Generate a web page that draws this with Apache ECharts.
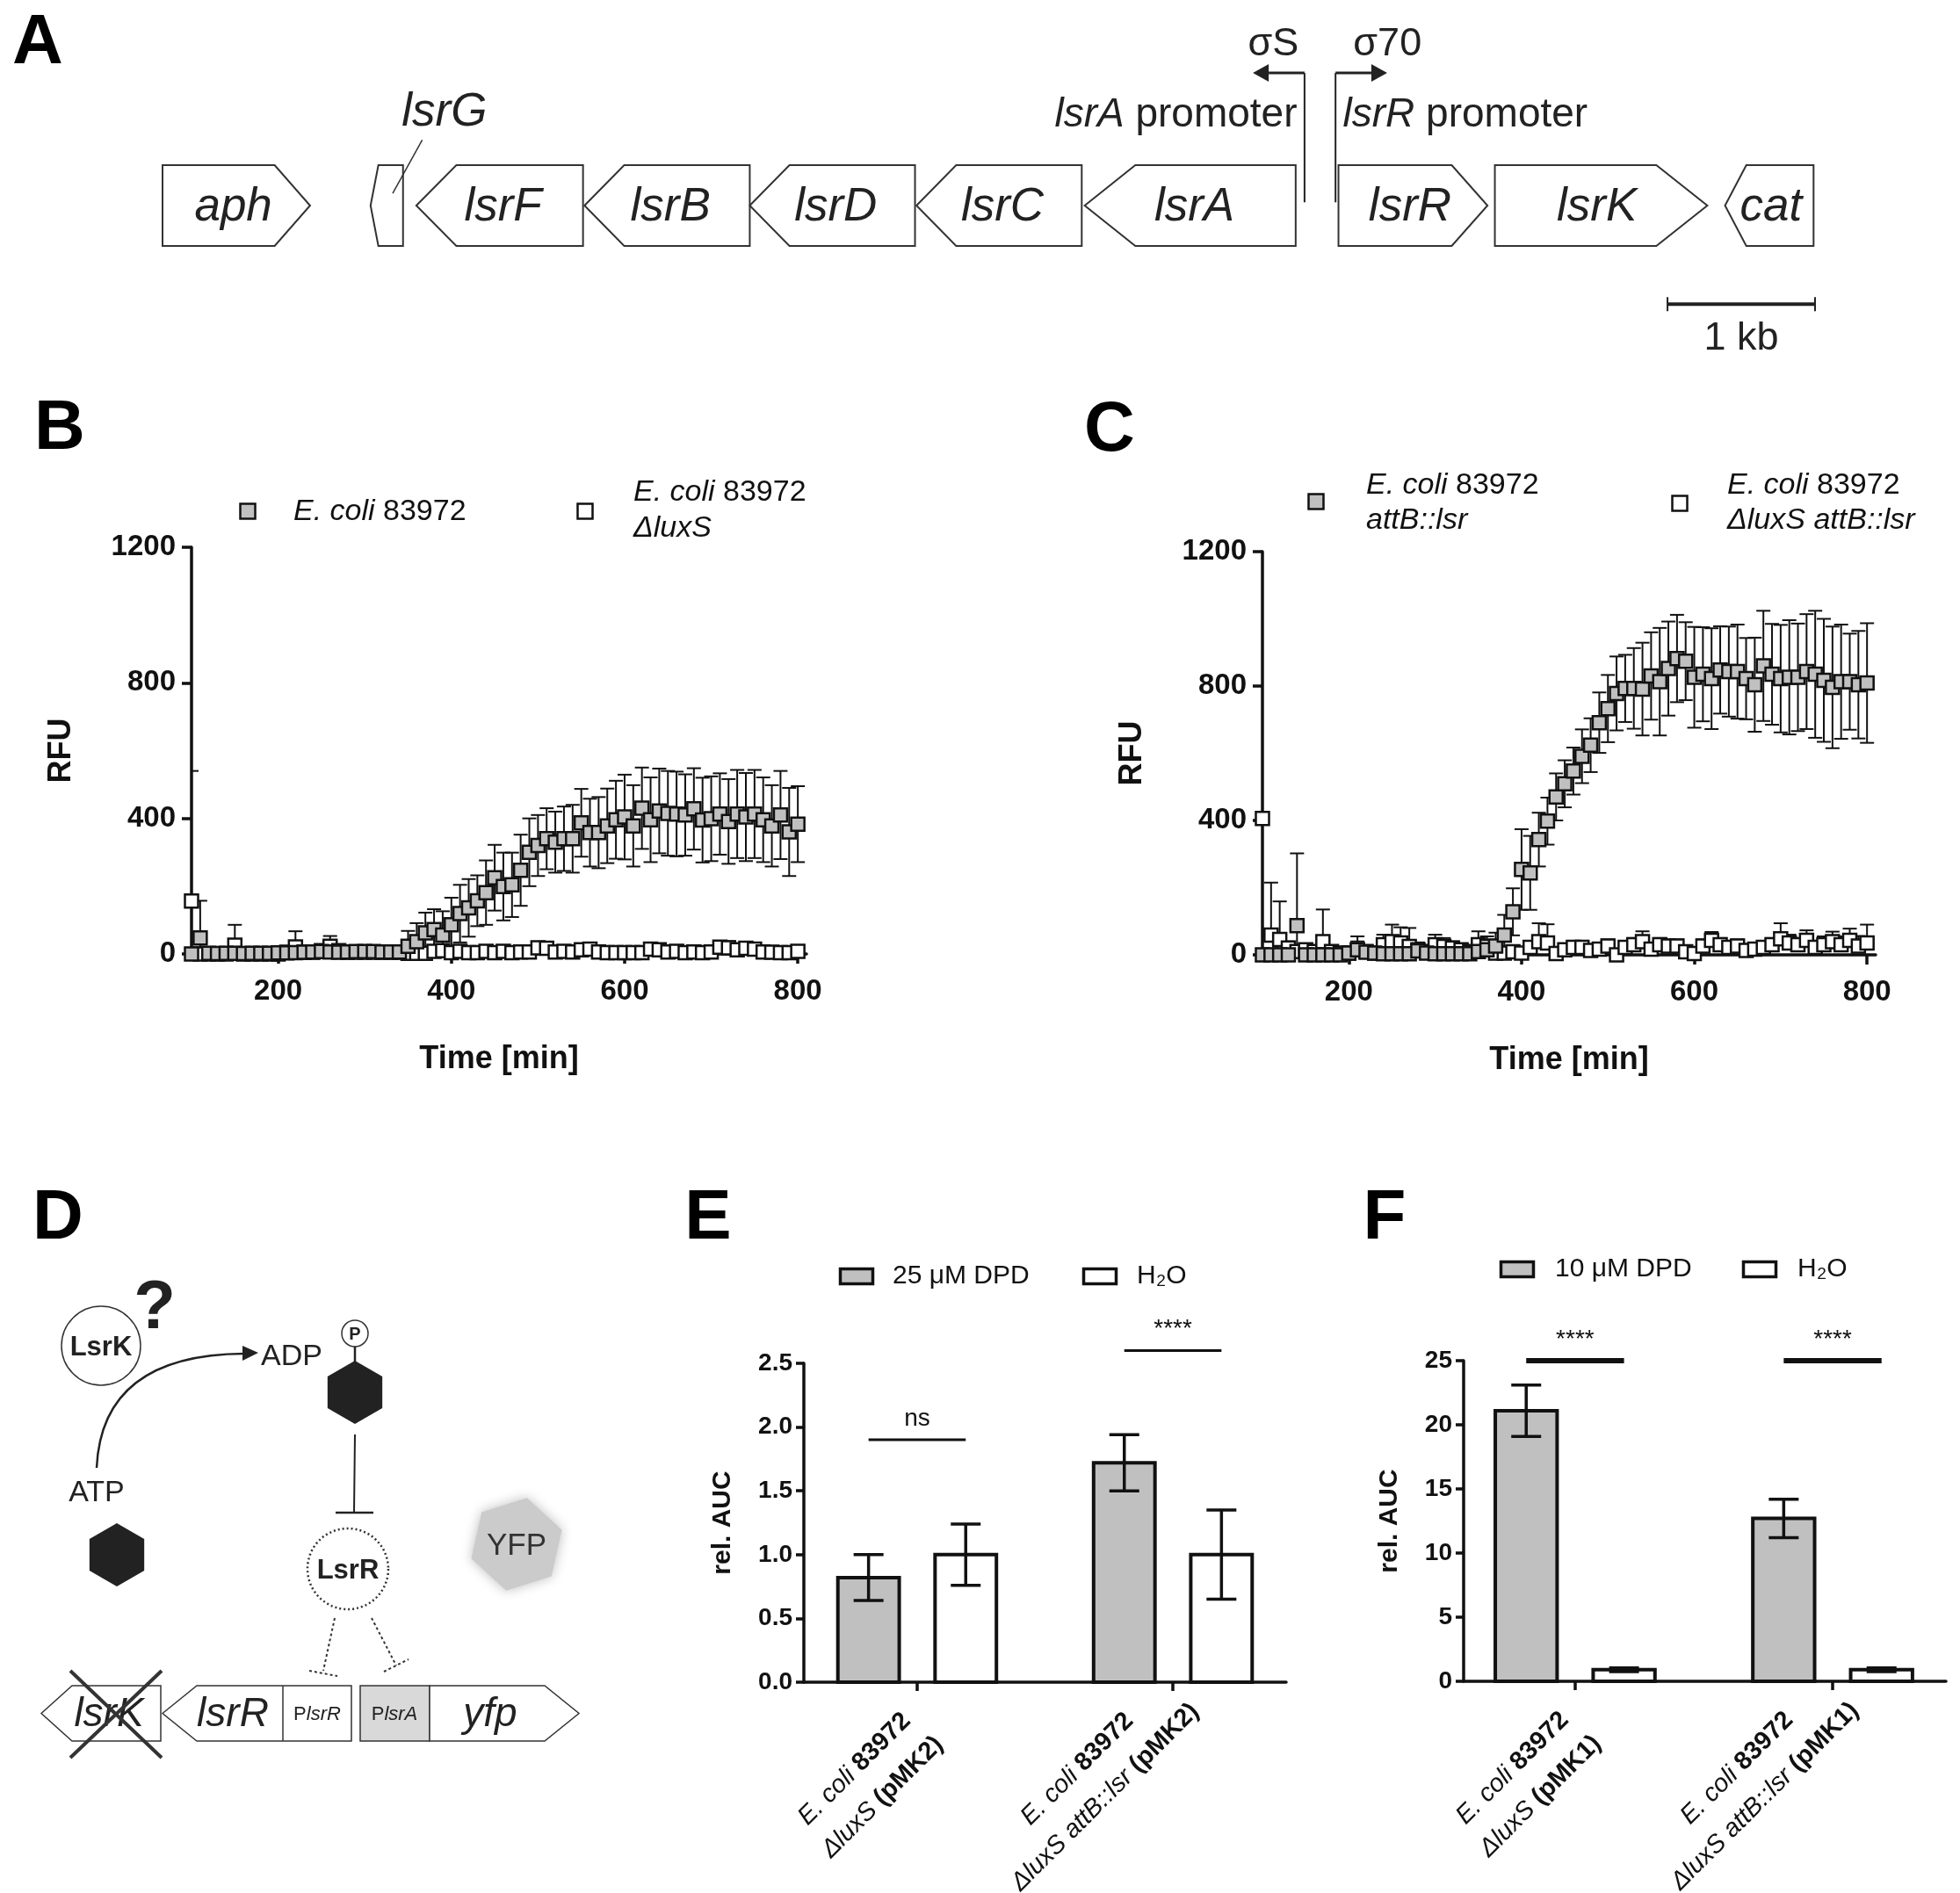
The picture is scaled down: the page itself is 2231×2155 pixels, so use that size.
<!DOCTYPE html>
<html lang="en">
<head>
<meta charset="UTF-8">
<title>lsr operon and LsrK</title>
<script src="https://cdn.jsdelivr.net/npm/echarts@6/dist/echarts.min.js"></script>
<style>
  html, body { margin: 0; padding: 0; background: #fff; }
  #chart { width: 2231px; height: 2155px; }
</style>
</head>
<body>
<div id="chart"></div>
<script>
const FONT = '"Liberation Sans", Arial, Helvetica, sans-serif';
const INK = '#111';

// ---- panel A: gene map (kb) ----
const geneNames = ['aph', 'lsrG', 'lsrF', 'lsrB', 'lsrD', 'lsrC', 'lsrA', 'lsrR', 'lsrK', 'cat'];
const geneStart = [0, 1.41, 1.72, 2.86, 3.98, 5.11, 6.25, 7.97, 9.03, 10.59];
const geneEnd = [1.00, 1.63, 2.85, 3.98, 5.10, 6.23, 7.68, 8.98, 10.47, 11.19];
const geneStrand = [1, -1, -1, -1, -1, -1, -1, 1, 1, -1];
const promoterPos = [7.74, 7.95];
const promoterDir = [-1, 1];
const promoterGene = ['lsrA', 'lsrR'];
const sigmaNames = ['σS', 'σ70'];
const scaleBar = [10.2, 11.2];

// ---- panels B, C: RFU over time ----
const timeMin = [100,110,120,130,140,150,160,170,180,190,200,210,220,230,240,250,260,270,280,290,
  300,310,320,330,340,350,360,370,380,390,400,410,420,430,440,450,460,470,480,490,
  500,510,520,530,540,550,560,570,580,590,600,610,620,630,640,650,660,670,680,690,
  700,710,720,730,740,750,760,770,780,790,800];

const bWt = [0,47,2,1,2,2,1,2,2,2, 3,3,4,5,6,7,6,5,6,7, 7,7,6,6,6,23,36,62,72,56,
  86,119,136,157,181,225,199,204,247,300, 320,340,330,340,340,387,358,358,378,396,
  404,378,430,396,422,415,413,410,428,395, 399,413,391,413,404,413,396,378,410,360,383];
const bWtSd = [3,110,5,5,5,5,5,5,5,5, 5,8,8,8,8,8,8,8,8,8, 8,8,8,10,12,45,55,60,60,70,
  80,85,85,75,95,97,100,95,105,100, 90,90,90,95,100,100,100,105,110,115,
  125,120,120,125,125,125,125,120,120,125, 125,120,125,130,130,130,125,120,130,130,112];
const bLux = [156,0,0,0,0,26,0,0,0,0, 0,5,21,5,5,10,23,10,5,5, 5,5,5,5,5,2,2,2,8,10,
  4,8,4,4,8,4,8,4,6,6, 18,17,6,8,6,12,14,6,4,4, 4,4,4,14,12,6,8,4,6,4,
  6,20,18,12,17,14,6,5,4,4,8];
const bLuxSd = [384,0,0,0,0,60,0,0,0,0, 0,5,46,5,5,10,30,10,5,5, 5,5,5,5,5,5,5,5,8,8,
  5,8,5,5,8,5,8,5,6,6, 10,10,6,8,6,10,10,6,5,5, 5,5,5,10,10,6,8,5,6,5,
  6,15,20,10,12,10,6,5,5,5,8];

const cWt = [0,0,0,0,87,0,0,0,0,0, 5,15,8,5,3,3,3,3,12,5, 3,3,3,3,3,10,15,26,59,128,
  254,244,343,398,470,509,547,591,624,691, 733,778,793,793,791,830,813,852,882,874,
  826,835,822,848,843,843,822,804,860,835, 822,826,826,843,835,817,796,813,813,804,809];
const cWtSd = [5,5,5,5,215,10,10,10,10,10, 10,40,15,10,10,10,10,10,25,10, 10,10,10,10,10,30,30,40,60,70,
  120,110,80,70,70,70,70,80,80,90, 100,110,100,120,138,130,160,140,130,116,
  150,140,150,130,134,140,121,140,164,150, 160,170,160,171,189,183,181,170,143,160,178];
const cLux = [406,59,46,20,10,15,10,39,10,5, 5,15,10,5,30,39,35,25,15,10, 30,25,20,15,10,30,25,5,5,9,
  5,22,39,35,4,15,22,22,13,17, 26,0,22,30,39,17,30,26,26,9, 4,26,43,30,22,26,13,17,22,30,
  48,35,30,43,22,30,39,30,43,26,35];
const cLuxSd = [0,156,113,20,10,10,10,96,10,5, 10,25,10,5,30,51,47,55,15,10, 30,25,20,15,10,40,30,10,10,10,
  10,15,55,56,10,15,20,20,15,15, 20,10,15,20,31,15,20,20,20,10, 10,20,25,20,20,20,15,15,15,20,
  46,25,20,30,20,25,30,25,35,30,55];
const timeTicks = [200, 400, 600, 800];

// ---- panels E, F: rel. AUC ----
const strainsE = ['{i|E. coli} {b|83972}\n{i|ΔluxS} {b|(pMK2)}', '{i|E. coli} {b|83972}\n{i|ΔluxS attB::lsr} {b|(pMK2)}'];
const dpdE = [0.82, 1.72];
const dpdESd = [0.18, 0.22];
const waterE = [1.0, 1.0];
const waterESd = [0.24, 0.35];
const sigE = ['ns', '****'];
const sigEY = [1.9, 2.6];

const strainsF = ['{i|E. coli} {b|83972}\n{i|ΔluxS} {b|(pMK1)}', '{i|E. coli} {b|83972}\n{i|ΔluxS attB::lsr} {b|(pMK1)}'];
const dpdF = [21.1, 12.7];
const dpdFSd = [2.0, 1.5];
const waterF = [0.9, 0.9];
const waterFSd = [0.15, 0.15];
const sigF = ['****', '****'];
const sigFY = [25.0, 25.0];

const GRAY = '#c0c0c0';
const BAR_OFF = 0.19, BAR_W = 0.24;
const LAB_SIZE = 29, LAB_LH = 45;

function font(size, weight, style) {
  return { fontSize: size, fontFamily: FONT, fontWeight: weight || 'normal', fontStyle: style || 'normal' };
}
function richSet(size, lh, align) {
  const r = {
    n: font(size), i: font(size, 'normal', 'italic'), b: font(size, 'bold'),
    bi: font(size, 'bold', 'italic')
  };
  Object.keys(r).forEach(k => {
    if (lh) r[k].lineHeight = lh;
    if (align) r[k].align = align;
  });
  return r;
}
function txt(x, y, text, size, extra) {
  const st = Object.assign({ text, x: 0, y: 0, fill: INK, textAlign: 'center', textVerticalAlign: 'middle',
    align: 'center', verticalAlign: 'middle' }, font(size), extra || {});
  if (st.textAlign) st.align = st.textAlign;
  if (st.textVerticalAlign) st.verticalAlign = st.textVerticalAlign;
  return { type: 'text', x, y, silent: true, style: st };
}
function hex(cx, cy, r, rot) {
  const pts = [];
  for (let k = 0; k < 6; k++) {
    const a = (rot || 0) - Math.PI / 2 + k * Math.PI / 3;
    pts.push([cx + r * Math.cos(a), cy + r * Math.sin(a)]);
  }
  return pts;
}
const lineEl = (x1, y1, x2, y2, w, extra) => ({ type: 'line', silent: true,
  shape: { x1, y1, x2, y2 }, style: Object.assign({ stroke: '#222', lineWidth: w }, extra || {}) });

// width of one line of rich text, to place the rotated strain labels
const mctx = document.createElement('canvas').getContext('2d');
const tokenFont = { n: ['normal', 'normal'], i: ['italic', 'normal'], b: ['normal', 'bold'], bi: ['italic', 'bold'] };
function lineWidth(line, size) {
  const measure = (s, st, wt) => { mctx.font = st + ' ' + wt + ' ' + size + 'px ' + FONT; return mctx.measureText(s).width; };
  const re = /\{(\w+)\|([^}]*)\}/g;
  let w = 0, last = 0, m;
  while ((m = re.exec(line))) {
    if (m.index > last) w += measure(line.slice(last, m.index), 'normal', 'normal');
    const f = tokenFont[m[1]] || tokenFont.n;
    w += measure(m[2], f[0], f[1]);
    last = re.lastIndex;
  }
  if (last < line.length) w += measure(line.slice(last), 'normal', 'normal');
  return w;
}

// ---------- renderers ----------
function geneRender(params, api) {
  const i = params.dataIndex;
  const x1 = api.coord([api.value(0), 0])[0];
  const x2 = api.coord([api.value(1), 0])[0];
  const yb = api.coord([0, 0])[1], yt = api.coord([0, 1])[1], ym = (yb + yt) / 2;
  const head = 0.24 * (x2 - x1);
  let pts;
  if (api.value(2) > 0) {
    pts = [[x1, yt], [x2 - head, yt], [x2, ym], [x2 - head, yb], [x1, yb]];
  } else {
    pts = [[x1, ym], [x1 + head, yt], [x2, yt], [x2, yb], [x1 + head, yb]];
  }
  const cx = (x1 + x2) / 2 + api.value(2) * 0.02 * (x2 - x1) * -1;
  const children = [{ type: 'polygon', shape: { points: pts }, style: { fill: '#fff', stroke: '#333', lineWidth: 2 } }];
  const len = geneEnd[i] - geneStart[i];
  if (len > 0.4) {
    children.push({ type: 'text', style: Object.assign({ text: geneNames[i], x: cx, y: ym + 2, fill: '#222',
      textAlign: 'center', textVerticalAlign: 'middle', align: 'center', verticalAlign: 'middle' }, font(53, 'normal', 'italic')) });
  } else {
    const mid = (geneStart[i] + geneEnd[i]) / 2;
    const lp = api.coord([mid + 0.39, 1.65]);
    const a = api.coord([mid + 0.24, 1.31]), b = api.coord([mid + 0.04, 0.65]);
    children.push({ type: 'line', shape: { x1: a[0], y1: a[1], x2: b[0], y2: b[1] }, style: { stroke: '#333', lineWidth: 1.5 } });
    children.push({ type: 'text', style: Object.assign({ text: geneNames[i], x: lp[0], y: lp[1], fill: '#222',
      textAlign: 'center', textVerticalAlign: 'middle', align: 'center', verticalAlign: 'middle' }, font(53, 'normal', 'italic')) });
  }
  return { type: 'group', children };
}

function promoterRender(params, api) {
  const i = params.dataIndex;
  const p = api.value(0), dir = api.value(1);
  const bot = api.coord([p, 0.54]), top = api.coord([p, 2.14]);
  const tip = api.coord([p + dir * 0.35, 2.14]);
  const hl = 18, hh = 10;
  const sig = api.coord([p + (dir < 0 ? -0.04 : 0.12), 2.49]);
  const nm = api.coord([p + dir * 0.05, 1.615]);
  const al = dir < 0 ? 'right' : 'left';
  return { type: 'group', children: [
    { type: 'line', shape: { x1: bot[0], y1: bot[1], x2: top[0], y2: top[1] }, style: { stroke: '#222', lineWidth: 2 } },
    { type: 'line', shape: { x1: top[0], y1: top[1], x2: tip[0] - dir * hl, y2: top[1] }, style: { stroke: '#222', lineWidth: 3 } },
    { type: 'polygon', shape: { points: [[tip[0], tip[1]], [tip[0] - dir * hl, tip[1] - hh], [tip[0] - dir * hl, tip[1] + hh]] }, style: { fill: '#222' } },
    { type: 'text', style: Object.assign({ text: sigmaNames[i], x: sig[0], y: sig[1], fill: '#222',
      textAlign: al, textVerticalAlign: 'middle', align: al, verticalAlign: 'middle' }, font(45)) },
    { type: 'text', style: Object.assign({ text: '{i|' + promoterGene[i] + '} promoter', x: nm[0], y: nm[1], fill: '#222',
      rich: richSet(46), textAlign: al, textVerticalAlign: 'middle', align: al, verticalAlign: 'middle' }, font(46)) }
  ] };
}

function scaleRender(params, api) {
  const a = api.coord([api.value(0), -0.72]), b = api.coord([api.value(1), -0.72]);
  const t = api.coord([(api.value(0) + api.value(1)) / 2, -1.15]);
  return { type: 'group', children: [
    { type: 'line', shape: { x1: a[0], y1: a[1], x2: b[0], y2: b[1] }, style: { stroke: '#222', lineWidth: 4 } },
    { type: 'line', shape: { x1: a[0], y1: a[1] - 8, x2: a[0], y2: a[1] + 8 }, style: { stroke: '#222', lineWidth: 2 } },
    { type: 'line', shape: { x1: b[0], y1: b[1] - 8, x2: b[0], y2: b[1] + 8 }, style: { stroke: '#222', lineWidth: 2 } },
    { type: 'text', style: Object.assign({ text: '1 kb', x: t[0], y: t[1], fill: '#222',
      textAlign: 'center', textVerticalAlign: 'middle', align: 'center', verticalAlign: 'middle' }, font(45)) }
  ] };
}

function errRender(upOnly) {
  return function (params, api) {
    const x = api.value(0), m = api.value(1), e = api.value(2);
    if (!e) return null;
    const c = api.coord([x, m]);
    const hi = api.coord([x, m + e]);
    const lo = api.coord([x, upOnly ? m : m - e]);
    const hw = 8;
    const st = { stroke: INK, lineWidth: 2 };
    const ch = [
      { type: 'line', shape: { x1: c[0], y1: hi[1], x2: c[0], y2: lo[1] }, style: st },
      { type: 'line', shape: { x1: c[0] - hw, y1: hi[1], x2: c[0] + hw, y2: hi[1] }, style: st }
    ];
    if (!upOnly) ch.push({ type: 'line', shape: { x1: c[0] - hw, y1: lo[1], x2: c[0] + hw, y2: lo[1] }, style: st });
    return { type: 'group', children: ch };
  };
}

function barRender(offset, fill) {
  return function (params, api) {
    const g = api.value(0) + offset, v = api.value(1), sd = api.value(2);
    const tl = api.coord([g - BAR_W / 2, v]), br = api.coord([g + BAR_W / 2, 0]);
    const mid = api.coord([g, v]), hi = api.coord([g, v + sd]), lo = api.coord([g, v - sd]);
    const cap = 17;
    const st = { stroke: INK, lineWidth: 3.5 };
    return { type: 'group', children: [
      { type: 'rect', shape: { x: tl[0], y: tl[1], width: br[0] - tl[0], height: br[1] - tl[1] }, style: { fill, stroke: INK, lineWidth: 4 } },
      { type: 'line', shape: { x1: mid[0], y1: hi[1], x2: mid[0], y2: lo[1] }, style: st },
      { type: 'line', shape: { x1: mid[0] - cap, y1: hi[1], x2: mid[0] + cap, y2: hi[1] }, style: st },
      { type: 'line', shape: { x1: mid[0] - cap, y1: lo[1], x2: mid[0] + cap, y2: lo[1] }, style: st }
    ] };
  };
}

function sigRender(labels, lw, size) {
  return function (params, api) {
    const g = api.value(0), y = api.value(1);
    const a = api.coord([g - BAR_OFF, y]), b = api.coord([g + BAR_OFF, y]);
    return { type: 'group', children: [
      { type: 'line', shape: { x1: a[0], y1: a[1], x2: b[0], y2: b[1] }, style: { stroke: INK, lineWidth: lw } },
      { type: 'text', style: Object.assign({ text: labels[params.dataIndex], x: (a[0] + b[0]) / 2, y: a[1] - 10, fill: INK,
        textAlign: 'center', textVerticalAlign: 'bottom', align: 'center', verticalAlign: 'bottom' }, font(size)) }
    ] };
  };
}

// rotated, centred two-line strain labels; the rotated box's right edge sits just right of the tick
function strainLabelRender(labels) {
  return function (params, api) {
    const p = api.coord([api.value(0), 0]);
    const text = labels[params.dataIndex];
    const w = Math.max.apply(null, text.split('\n').map(l => lineWidth(l, LAB_SIZE)));
    const h = 2 * LAB_LH;
    const cx = p[0] + 41 - 0.3536 * (w + h);
    const cy = p[1] + 115;
    return { type: 'text', x: cx, y: cy, rotation: Math.PI / 4,
      style: Object.assign({ text, x: 0, y: 0, fill: INK, lineHeight: LAB_LH, rich: richSet(LAB_SIZE, LAB_LH, 'center'),
        textAlign: 'center', textVerticalAlign: 'middle', align: 'center', verticalAlign: 'middle' }, font(LAB_SIZE)) };
  };
}

// ---------- axes ----------
const axisLineStyle = { color: INK, width: 3.5 };
function timeXAxis(gi) {
  return {
    gridIndex: gi, type: 'value', min: 100, max: 810,
    axisLine: { show: true, onZero: false, lineStyle: axisLineStyle },
    axisTick: { show: true, customValues: timeTicks, length: 11, lineStyle: axisLineStyle },
    axisLabel: Object.assign({ customValues: timeTicks, margin: 26, color: INK, formatter: v => String(v) }, font(33, 'bold')),
    splitLine: { show: false },
    name: 'Time [min]', nameLocation: 'middle', nameGap: 102,
    nameTextStyle: Object.assign({ color: INK }, font(36, 'bold'))
  };
}
function rfuYAxis(gi) {
  return {
    gridIndex: gi, type: 'value', min: 0, max: 1200, interval: 400,
    axisLine: { show: true, onZero: false, lineStyle: axisLineStyle },
    axisTick: { show: true, length: 11, lineStyle: axisLineStyle },
    axisLabel: Object.assign({ margin: 18, color: INK, formatter: v => String(v) }, font(33, 'bold')),
    splitLine: { show: false },
    name: 'RFU', nameLocation: 'middle', nameGap: 130,
    nameTextStyle: Object.assign({ color: INK }, font(36, 'bold'))
  };
}
function barXAxis(gi, min, max) {
  return {
    gridIndex: gi, type: 'value', min, max,
    axisLine: { show: true, onZero: false, lineStyle: axisLineStyle },
    axisTick: { show: true, customValues: [0, 1], length: 10, lineStyle: axisLineStyle },
    axisLabel: { show: false },
    splitLine: { show: false }
  };
}
function aucYAxis(gi, max, interval, fmt, gap) {
  return {
    gridIndex: gi, type: 'value', min: 0, max, interval,
    axisLine: { show: true, onZero: false, lineStyle: axisLineStyle },
    axisTick: { show: true, length: 9, lineStyle: axisLineStyle },
    axisLabel: Object.assign({ margin: 13, color: INK, formatter: fmt }, font(28, 'bold')),
    splitLine: { show: false },
    name: 'rel. AUC', nameLocation: 'middle', nameGap: gap,
    nameTextStyle: Object.assign({ color: INK }, font(30, 'bold'))
  };
}

const pts = (t, v) => t.map((x, i) => [x, v[i]]);
const errPts = (t, v, e) => t.map((x, i) => [x, v[i], e[i]]);
const squares = (xi, data, fill) => ({
  type: 'scatter', xAxisIndex: xi, yAxisIndex: xi, data, symbol: 'rect', symbolSize: 15, silent: true,
  itemStyle: { color: fill, borderColor: INK, borderWidth: 2.5, opacity: 1 }
});
const errSeries = (xi, data, upOnly) => ({
  type: 'custom', xAxisIndex: xi, yAxisIndex: xi, data, renderItem: errRender(upOnly), silent: true, clip: true
});

// ---------- graphic (letters, legends, panel D scheme) ----------
const graphics = [];
[['A', 43, 50], ['B', 68, 489], ['C', 1263, 491], ['D', 66, 1388], ['E', 806, 1388], ['F', 1576, 1388]]
  .forEach(([l, x, y]) => graphics.push(txt(x, y, l, 80, { fontWeight: 'bold', fill: '#000' })));

function legendSquare(cx, cy, w, h, fill, bw) {
  return { type: 'rect', silent: true, shape: { x: cx - w / 2, y: cy - h / 2, width: w, height: h },
    style: { fill, stroke: INK, lineWidth: bw } };
}
function legendText(x, y, text, size, lh) {
  return txt(x, y, text, size, { textAlign: 'left', rich: richSet(size, lh), lineHeight: lh });
}
// B legend
graphics.push(legendSquare(282, 582, 17, 17, GRAY, 2.5));
graphics.push(legendText(334, 583, '{i|E. coli} 83972', 34, 41));
graphics.push(legendSquare(666, 582, 17, 17, '#fff', 2.5));
graphics.push(legendText(721, 581, '{i|E. coli} 83972\n{i|ΔluxS}', 34, 41));
// C legend
graphics.push(legendSquare(1498, 571, 17, 17, GRAY, 2.5));
graphics.push(legendText(1555, 573, '{i|E. coli} 83972\n{i|attB::lsr}', 34, 40));
graphics.push(legendSquare(1912, 573, 17, 17, '#fff', 2.5));
graphics.push(legendText(1966, 573, '{i|E. coli} 83972\n{i|ΔluxS attB::lsr}', 34, 40));
// E legend
graphics.push(legendSquare(975, 1453, 37, 17, GRAY, 3.5));
graphics.push(legendText(1016, 1453, '25 μM DPD', 30, 36));
graphics.push(legendSquare(1252, 1453, 37, 17, '#fff', 3.5));
graphics.push(legendText(1294, 1453, 'H₂O', 30, 36));
// F legend
graphics.push(legendSquare(1727, 1445, 37, 17, GRAY, 3.5));
graphics.push(legendText(1770, 1445, '10 μM DPD', 30, 36));
graphics.push(legendSquare(2003, 1445, 37, 17, '#fff', 3.5));
graphics.push(legendText(2046, 1445, 'H₂O', 30, 36));

// panel D scheme
graphics.push({ type: 'circle', silent: true, shape: { cx: 115, cy: 1532, r: 45 }, style: { fill: '#fff', stroke: '#333', lineWidth: 1.5 } });
graphics.push(txt(115, 1534, 'LsrK', 31, { fontWeight: 'bold', fill: '#222' }));
graphics.push(txt(176, 1490, '?', 78, { fontWeight: 'bold', fill: '#222' }));
graphics.push({ type: 'bezierCurve', silent: true, shape: { x1: 110, y1: 1671, cpx1: 116, cpy1: 1542, x2: 278, y2: 1541 },
  style: { stroke: '#222', lineWidth: 2.5, fill: null } });
graphics.push({ type: 'polygon', silent: true, shape: { points: [[294, 1540], [276, 1532], [276, 1549]] }, style: { fill: '#222' } });
graphics.push(txt(332, 1545, 'ADP', 34, { fill: '#222' }));
graphics.push({ type: 'circle', silent: true, shape: { cx: 404, cy: 1518, r: 15 }, style: { fill: '#fff', stroke: '#333', lineWidth: 1.5 } });
graphics.push(txt(404, 1519, 'P', 20, { fontWeight: 'bold', fill: '#222' }));
graphics.push(lineEl(404, 1533, 404, 1552, 2.5));
graphics.push({ type: 'polygon', silent: true, shape: { points: hex(404, 1585, 36) }, style: { fill: '#222' } });
graphics.push(lineEl(404, 1633, 403, 1722, 2));
graphics.push(lineEl(382, 1722, 425, 1722, 2.5));
graphics.push({ type: 'circle', silent: true, shape: { cx: 396, cy: 1786, r: 46 },
  style: { fill: '#fff', stroke: '#333', lineWidth: 2.5, lineDash: [2, 3] } });
graphics.push(txt(396, 1788, 'LsrR', 31, { fontWeight: 'bold', fill: '#222' }));
graphics.push(txt(110, 1700, 'ATP', 34, { fill: '#222' }));
graphics.push({ type: 'polygon', silent: true, shape: { points: hex(133, 1770, 36) }, style: { fill: '#222' } });
graphics.push({ type: 'polygon', silent: true, shape: { points: hex(588, 1758, 54, 0.22) },
  style: { fill: '#cbcbcb', shadowBlur: 14, shadowColor: 'rgba(190,190,190,1)' } });
graphics.push(txt(588, 1760, 'YFP', 35, { fill: '#333' }));
const dotted = { lineDash: [3, 3], stroke: '#333' };
graphics.push(lineEl(381, 1842, 368, 1902, 2, dotted));
graphics.push(lineEl(352, 1902, 384, 1908, 2, dotted));
graphics.push(lineEl(423, 1842, 451, 1896, 2, dotted));
graphics.push(lineEl(437, 1903, 465, 1889, 2, dotted));
// gene row of the reporter
const gy1 = 1919, gy2 = 1982, gym = (gy1 + gy2) / 2;
const geneStyle = { fill: '#fff', stroke: '#333', lineWidth: 1.5 };
graphics.push({ type: 'polygon', silent: true, shape: { points: [[47, gym], [82, gy1], [183, gy1], [183, gy2], [82, gy2]] }, style: geneStyle });
graphics.push({ type: 'polygon', silent: true, shape: { points: [[185, gym], [224, gy1], [400, gy1], [400, gy2], [224, gy2]] }, style: geneStyle });
graphics.push(lineEl(322, gy1, 322, gy2, 1.5, { stroke: '#333' }));
graphics.push({ type: 'rect', silent: true, shape: { x: 410, y: gy1, width: 79, height: gy2 - gy1 }, style: { fill: '#d9d9d9', stroke: '#333', lineWidth: 1.5 } });
graphics.push({ type: 'polygon', silent: true, shape: { points: [[489, gy1], [620, gy1], [659, gym], [620, gy2], [489, gy2]] }, style: geneStyle });
graphics.push(txt(124, gym + 2, 'lsrK', 46, { fontStyle: 'italic', fill: '#222' }));
graphics.push(txt(265, gym + 2, 'lsrR', 46, { fontStyle: 'italic', fill: '#222' }));
graphics.push(txt(361, gym + 1, 'P{i|lsrR}', 22, { fill: '#222', rich: richSet(22) }));
graphics.push(txt(449, gym + 1, 'P{i|lsrA}', 22, { fill: '#222', rich: richSet(22) }));
graphics.push(txt(558, gym + 2, 'yfp', 46, { fontStyle: 'italic', fill: '#222' }));
graphics.push(lineEl(80, 1902, 184, 2001, 4, { stroke: '#333' }));
graphics.push(lineEl(184, 1902, 80, 2001, 4, { stroke: '#333' }));

// ---------- chart ----------
const noBounds = { outerBoundsMode: 'none', containLabel: false };
const chart = echarts.init(document.getElementById('chart'), null, { renderer: 'canvas', width: 2231, height: 2155 });
chart.setOption({
  backgroundColor: '#fff',
  animation: false,
  textStyle: { fontFamily: FONT },
  grid: [
    Object.assign({ left: 185, top: 188, width: 1881, height: 92 }, noBounds),
    Object.assign({ left: 218, top: 623, width: 700, height: 463 }, noBounds),
    Object.assign({ left: 1437, top: 628, width: 698, height: 459 }, noBounds),
    Object.assign({ left: 915, top: 1552, width: 549, height: 363 }, noBounds),
    Object.assign({ left: 1666, top: 1549, width: 549, height: 365 }, noBounds)
  ],
  xAxis: [
    { gridIndex: 0, type: 'value', min: 0, max: 11.2, show: false },
    timeXAxis(1),
    timeXAxis(2),
    barXAxis(3, -0.443, 1.443),
    barXAxis(4, -0.433, 1.44)
  ],
  yAxis: [
    { gridIndex: 0, type: 'value', min: 0, max: 1, show: false },
    rfuYAxis(1),
    rfuYAxis(2),
    aucYAxis(3, 2.5, 0.5, v => v.toFixed(1), 77),
    aucYAxis(4, 25, 5, v => String(v), 69)
  ],
  series: [
    // A
    { type: 'custom', xAxisIndex: 0, yAxisIndex: 0, silent: true, renderItem: geneRender,
      data: geneNames.map((n, i) => [geneStart[i], geneEnd[i], geneStrand[i]]) },
    { type: 'custom', xAxisIndex: 0, yAxisIndex: 0, silent: true, renderItem: promoterRender,
      data: promoterPos.map((p, i) => [p, promoterDir[i]]) },
    { type: 'custom', xAxisIndex: 0, yAxisIndex: 0, silent: true, renderItem: scaleRender, data: [scaleBar] },
    // B
    errSeries(1, errPts(timeMin, bLux, bLuxSd), true),
    squares(1, pts(timeMin, bLux), '#fff'),
    errSeries(1, errPts(timeMin, bWt, bWtSd), false),
    squares(1, pts(timeMin, bWt), GRAY),
    // C
    errSeries(2, errPts(timeMin, cLux, cLuxSd), true),
    squares(2, pts(timeMin, cLux), '#fff'),
    errSeries(2, errPts(timeMin, cWt, cWtSd), false),
    squares(2, pts(timeMin, cWt), GRAY),
    // E
    { type: 'custom', xAxisIndex: 3, yAxisIndex: 3, silent: true, renderItem: barRender(-BAR_OFF, GRAY),
      data: dpdE.map((v, i) => [i, v, dpdESd[i]]) },
    { type: 'custom', xAxisIndex: 3, yAxisIndex: 3, silent: true, renderItem: barRender(BAR_OFF, '#fff'),
      data: waterE.map((v, i) => [i, v, waterESd[i]]) },
    { type: 'custom', xAxisIndex: 3, yAxisIndex: 3, silent: true, renderItem: sigRender(sigE, 3, 28),
      data: sigEY.map((y, i) => [i, y]) },
    { type: 'custom', xAxisIndex: 3, yAxisIndex: 3, silent: true, renderItem: strainLabelRender(strainsE),
      data: strainsE.map((s, i) => [i, 0]) },
    // F
    { type: 'custom', xAxisIndex: 4, yAxisIndex: 4, silent: true, renderItem: barRender(-BAR_OFF, GRAY),
      data: dpdF.map((v, i) => [i, v, dpdFSd[i]]) },
    { type: 'custom', xAxisIndex: 4, yAxisIndex: 4, silent: true, renderItem: barRender(BAR_OFF, '#fff'),
      data: waterF.map((v, i) => [i, v, waterFSd[i]]) },
    { type: 'custom', xAxisIndex: 4, yAxisIndex: 4, silent: true, renderItem: sigRender(sigF, 6, 28),
      data: sigFY.map((y, i) => [i, y]) },
    { type: 'custom', xAxisIndex: 4, yAxisIndex: 4, silent: true, renderItem: strainLabelRender(strainsF),
      data: strainsF.map((s, i) => [i, 0]) }
  ],
  graphic: { elements: graphics }
});
</script>
</body>
</html>
